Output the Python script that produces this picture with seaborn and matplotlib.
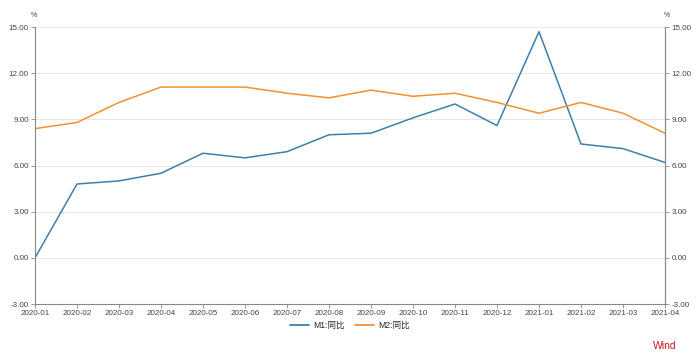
import matplotlib
matplotlib.use("Agg")
import matplotlib.pyplot as plt
import pandas as pd
import seaborn as sns

months = ["2020-01", "2020-02", "2020-03", "2020-04", "2020-05", "2020-06", "2020-07", "2020-08",
          "2020-09", "2020-10", "2020-11", "2020-12", "2021-01", "2021-02", "2021-03", "2021-04"]
m1 = [0.0, 4.8, 5.0, 5.5, 6.8, 6.5, 6.9, 8.0, 8.1, 9.1, 10.0, 8.6, 14.7, 7.4, 7.1, 6.2]
m2 = [8.4, 8.8, 10.1, 11.1, 11.1, 11.1, 10.7, 10.4, 10.9, 10.5, 10.7, 10.1, 9.4, 10.1, 9.4, 8.1]
series_names = ["M1:同比", "M2:同比"]
yticks = [-3, 0, 3, 6, 9, 12, 15]

df = pd.concat([
    pd.DataFrame({"month": months, "idx": range(len(months)), "value": m1, "series": series_names[0]}),
    pd.DataFrame({"month": months, "idx": range(len(months)), "value": m2, "series": series_names[1]}),
], ignore_index=True)

sns.set_theme(style="white")
plt.rcParams["font.family"] = ["Liberation Sans", "Noto Sans CJK SC", "DejaVu Sans"]

fig = plt.figure(figsize=(7, 3.56), dpi=100)
ax = fig.add_axes([0.05, 0.146, 0.9, 0.778])
palette = {series_names[0]: "#3c80ab", series_names[1]: "#f2922f"}
sns.lineplot(data=df, x="idx", y="value", hue="series", palette=palette, linewidth=1.1, ax=ax, legend=False)

tick_color = "#444444"
ax.set_xlim(0, len(months) - 1)
ax.set_ylim(-3, 15)
ax.set_yticks(yticks)
ax.set_yticklabels([f"{v:.2f}" for v in yticks], fontsize=5.8, color=tick_color)
ax.set_xticks(range(len(months)))
ax.set_xticklabels(months, fontsize=5.8, color=tick_color)
ax.set_xlabel("")
ax.set_ylabel("")
ax.yaxis.grid(True, color="#e8e8e8", linewidth=0.7)
ax.set_axisbelow(True)
ax.spines["top"].set_visible(False)
for side in ["left", "right", "bottom"]:
    ax.spines[side].set_color("#888888")
    ax.spines[side].set_linewidth(0.8)
ax.tick_params(axis="both", length=3, width=0.6, color="#888888", pad=1.5, direction="out")
ax.tick_params(axis="x", bottom=True)
ax.tick_params(axis="y", left=True)

ax2 = ax.twinx()
ax2.set_ylim(-3, 15)
ax2.set_yticks(yticks)
ax2.set_yticklabels([f"{v:.2f}" for v in yticks], fontsize=5.8, color=tick_color)
ax2.tick_params(axis="y", length=3, width=0.6, color="#888888", pad=1.5, right=True)
for side in ["top", "left", "bottom"]:
    ax2.spines[side].set_visible(False)
ax2.spines["right"].set_color("#888888")
ax2.spines["right"].set_linewidth(0.8)

fig.text(0.048, 0.952, "%", fontsize=5, color=tick_color, ha="center")
fig.text(0.952, 0.952, "%", fontsize=5, color=tick_color, ha="center")

handles = [plt.Line2D([], [], color=palette[n], linewidth=1.3) for n in series_names]
fig.legend(handles, series_names, loc="center", bbox_to_anchor=(0.5, 0.085), ncol=2, frameon=False,
           fontsize=6.2, handlelength=2.2, columnspacing=1.2, handletextpad=0.5)

fig.text(0.967, 0.02, "Wind", fontsize=7.5, color="#c8161e", ha="right")

fig.savefig("out.png", dpi=100)
plt.close(fig)
